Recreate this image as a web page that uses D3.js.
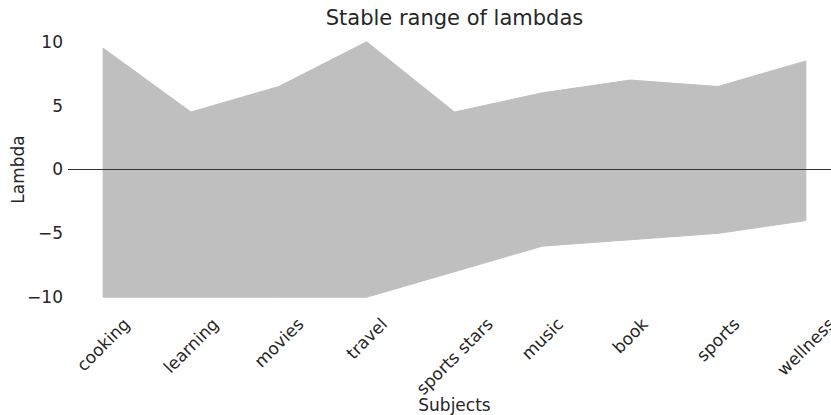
<!DOCTYPE html>
<html>
<head>
<meta charset="utf-8">
<script src="https://cdn.jsdelivr.net/npm/d3@7"></script>
<style>
  body { margin: 0; background: #fff; }
  text { font-family: "DejaVu Sans", sans-serif; fill: #262626; }
</style>
</head>
<body>
<div id="vis"></div>
<script>
// data
var subjects = ["cooking", "learning", "movies", "travel", "sports stars", "music", "book", "sports", "wellness"];
var upper = [9.5, 4.5, 6.5, 10, 4.5, 6, 7, 6.5, 8.5];
var lower = [-10, -10, -10, -10, -8, -6, -5.5, -5, -4];
var yTicks = [-10, -5, 0, 5, 10];

var W = 831, H = 415;
var margin = {top: 29, right: -10, bottom: 105, left: 68},
    width = W - margin.left - margin.right,
    height = H - margin.top - margin.bottom;

var svg = d3.select("#vis")
    .append("svg")
    .attr("width", W)
    .attr("height", H);

var g = svg.append("g")
    .attr("transform", "translate(" + margin.left + "," + margin.top + ")");

// index scale with matplotlib-ish 5% margin
var x = d3.scaleLinear()
    .domain([-0.4, subjects.length - 1 + 0.4])
    .range([0, width]);

var y = d3.scaleLinear()
    .domain([-11, 11])
    .range([height, 0]);

var rows = subjects.map(function(s, i) { return {i: i, lo: lower[i], hi: upper[i]}; });

var area = d3.area()
    .x(function(d) { return x(d.i); })
    .y0(function(d) { return y(d.lo); })
    .y1(function(d) { return y(d.hi); });

g.append("path")
    .datum(rows)
    .attr("d", area)
    .attr("fill", "#bfbfbf")
    .attr("stroke", "#bfbfbf")
    .attr("stroke-width", 1);

// zero line
g.append("line")
    .attr("x1", 0)
    .attr("x2", width)
    .attr("y1", y(0))
    .attr("y2", y(0))
    .attr("stroke", "#333")
    .attr("stroke-width", 1);

////////// y axis //////////
var yAxis = g.append("g")
    .call(d3.axisLeft(y).tickValues(yTicks).tickSize(0).tickPadding(5)
      .tickFormat(function(d) { return d < 0 ? "\u2212" + Math.abs(d) : d; }));
yAxis.select(".domain").remove();
yAxis.selectAll("text")
    .attr("font-size", "17px")
    .attr("font-family", "DejaVu Sans")
    .attr("fill", "#262626");

////////// x axis labels, rotated 45 and centred on tick //////////
var fs = 17;
var labelTop = y(-11) + 5;
var xl = g.append("g").attr("class", "xlabels");
xl.selectAll("text")
    .data(subjects)
    .enter()
    .append("text")
    .attr("font-size", fs + "px")
    .attr("text-anchor", "middle")
    .attr("dominant-baseline", "central")
    .text(function(d) { return d; })
    .each(function(d, i) {
      var w = this.getComputedTextLength();
      var cy = labelTop + (w + fs) / (2 * Math.SQRT2);
      d3.select(this)
        .attr("x", x(i))
        .attr("y", cy)
        .attr("transform", "rotate(-45," + x(i) + "," + cy + ")");
    });

// titles
svg.append("text")
    .attr("x", margin.left + width / 2)
    .attr("y", 25)
    .attr("text-anchor", "middle")
    .attr("font-size", "21px")
    .text("Stable range of lambdas");

svg.append("text")
    .attr("x", margin.left + width / 2)
    .attr("y", 411)
    .attr("text-anchor", "middle")
    .attr("font-size", "17px")
    .text("Subjects");

svg.append("text")
    .attr("transform", "translate(24," + (margin.top + height / 2) + ") rotate(-90)")
    .attr("text-anchor", "middle")
    .attr("font-size", "17px")
    .text("Lambda");
</script>
</body>
</html>
